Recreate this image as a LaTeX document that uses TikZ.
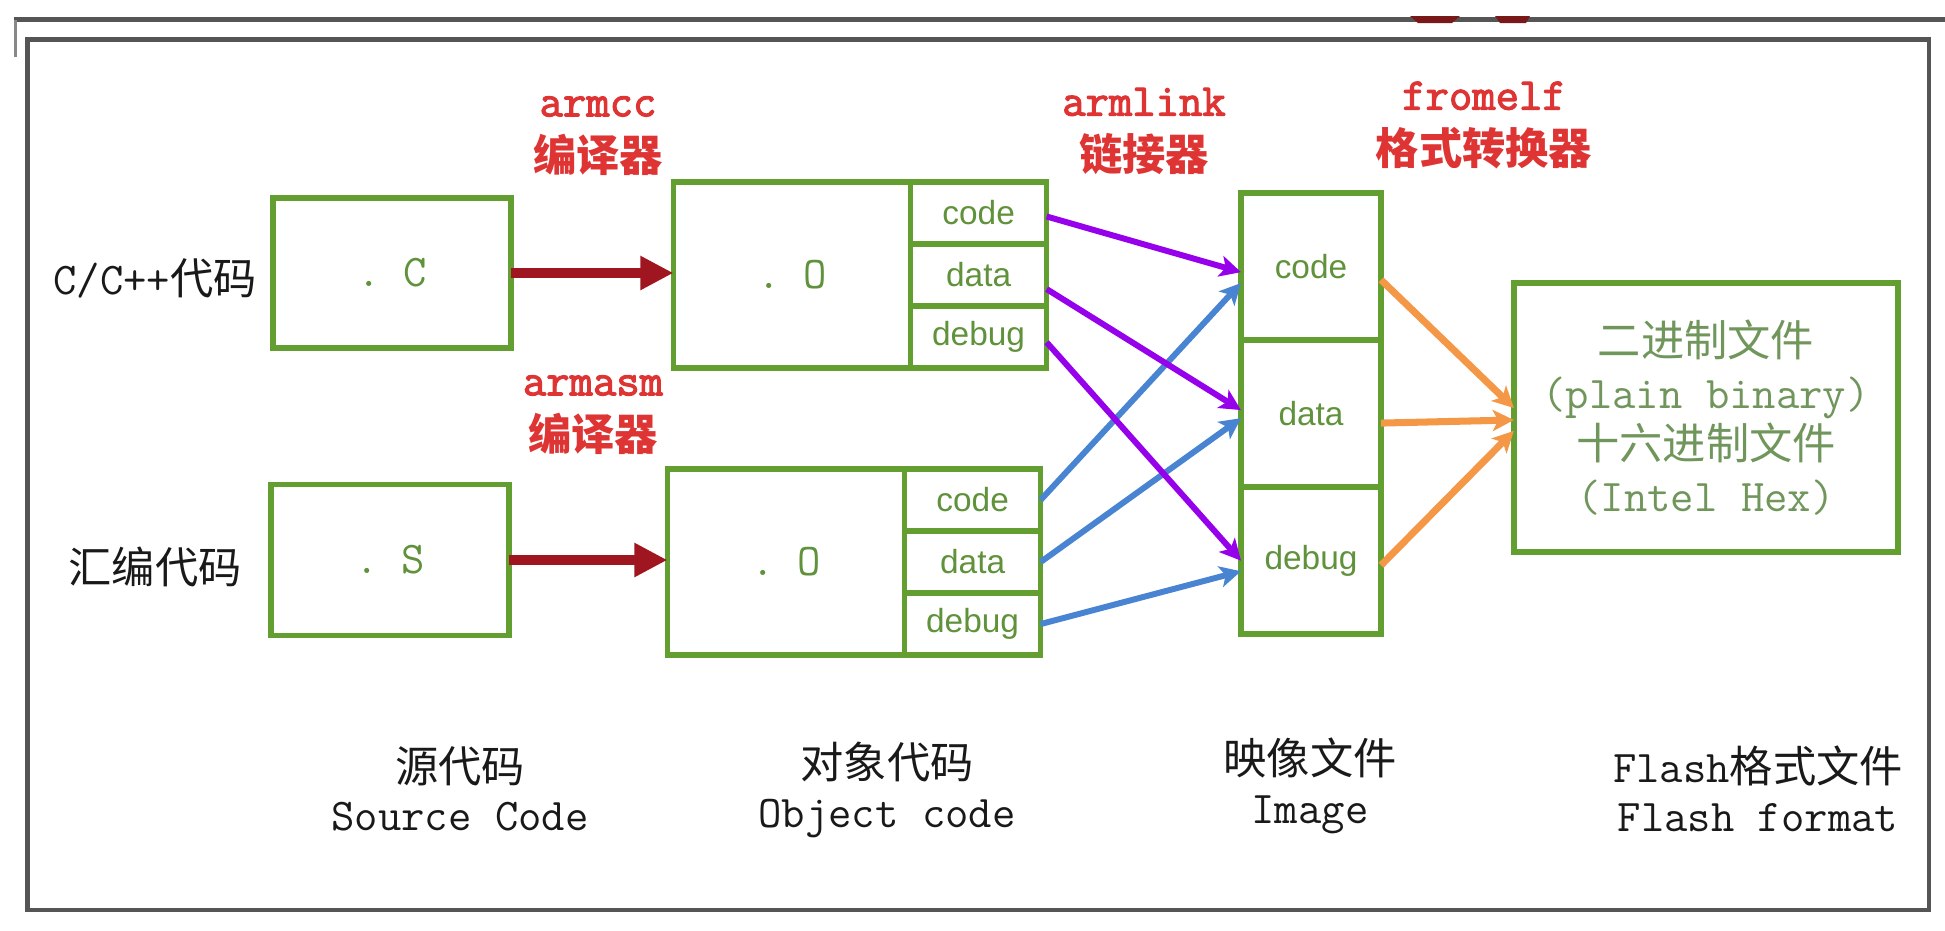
\documentclass[tikz,border=0pt]{standalone}
\usepackage{fontspec}
\setmainfont{Liberation Serif}
\setmonofont{Latin Modern Mono}[AutoFakeBold=2.5]
\newfontfamily\cjk{Noto Sans CJK SC}
\newfontfamily\arial{Liberation Sans}
\usetikzlibrary{positioning, arrows.meta, calc}

\definecolor{boxgreen}{RGB}{98,158,48}
\definecolor{textgreen}{RGB}{96,146,60}
\definecolor{flashtext}{RGB}{112,150,92}
\definecolor{labelred}{RGB}{222,52,52}
\definecolor{arrowred}{RGB}{160,22,32}
\definecolor{linkpurple}{RGB}{150,0,235}
\definecolor{linkblue}{RGB}{72,132,210}
\definecolor{convorange}{RGB}{244,152,72}
\definecolor{framegray}{RGB}{85,85,85}
\definecolor{blobred}{RGB}{120,24,24}

\newcommand{\zh}[1]{{\cjk\fontsize{12.3}{15}\selectfont #1}}

\begin{document}
\begin{tikzpicture}[x=0.01cm, y=-0.01cm,
    box/.style={draw=boxgreen, line width=1.6pt, outer sep=0pt, inner sep=0pt,
        text=textgreen, font=\ttfamily\fontsize{12.9}{15}\selectfont},
    part/.style={box, minimum width=1.36cm, minimum height=0.62cm, font=\arial\fontsize{9.5}{11}\selectfont},
    imgpart/.style={box, minimum width=1.40cm, minimum height=1.47cm, font=\arial\fontsize{9.5}{11}\selectfont},
    tool/.style={text=labelred, align=center, font=\ttfamily\bfseries\fontsize{12.9}{15.7}\selectfont},
    stage/.style={align=center, text=black!90, font=\ttfamily\fontsize{12.9}{13.8}\selectfont},
    compile/.style={-{Triangle[length=0.33cm, width=0.32cm]}, arrowred, line width=2.9pt},
    link/.style={-{Stealth[length=6pt, width=6pt, inset=1.5pt]}, line width=1.7pt},
    convert/.style={link, convorange, line width=2pt}]

    \useasboundingbox (0,0) rectangle (1945,930);

    % window frame
    \draw[framegray, line width=1.2pt] (14,19.5) -- (1945,19.5);
    \draw[framegray!70, line width=0.9pt] (15.5,19.5) -- (15.5,57);
    \fill[blobred] (1410,16) -- (1460,16) -- (1452,23) -- (1418,23) -- cycle;
    \fill[blobred] (1495,16) -- (1530,16) -- (1526,23) -- (1500,23) -- cycle;
    \draw[framegray, line width=1.3pt] (27.5,39.5) rectangle (1929,910);

    % source files
    \node[stage] (cLabel) at (155,278) {C/C++\zh{代码}};
    \node[stage] (asmLabel) at (155,567) {\zh{汇编代码}};
    \node[box, minimum width=2.38cm, minimum height=1.50cm] (srcC) at (392,273) {.\hspace{0.5em}C};
    \node[box, minimum width=2.38cm, minimum height=1.51cm] (srcS) at (390,560) {.\hspace{0.5em}S};

    % object files
    \node[box, minimum width=2.37cm, minimum height=1.86cm] (objA) at (792,275) {.\hspace{0.5em}O};
    \node[part, anchor=north west] (objAcode) at (objA.north east) {code};
    \node[part, below=0pt of objAcode] (objAdata) {data};
    \node[part, below=0pt of objAdata] (objAdebug) {debug};

    \node[box, minimum width=2.37cm, minimum height=1.86cm] (objB) at (786,562) {.\hspace{0.5em}O};
    \node[part, anchor=north west] (objBcode) at (objB.north east) {code};
    \node[part, below=0pt of objBcode] (objBdata) {data};
    \node[part, below=0pt of objBdata] (objBdebug) {debug};

    % image file
    \node[imgpart] (imgcode) at (1311,266.5) {code};
    \node[imgpart, below=0pt of imgcode] (imgdata) {data};
    \node[imgpart, below=0pt of imgdata] (imgdebug) {debug};

    % flash file
    \node[box, minimum width=3.84cm, minimum height=2.69cm, align=center, text=flashtext,
        font=\ttfamily\fontsize{12.9}{14.7}\selectfont] (flash) at (1706,417.5)
        {\zh{二进制文件}\\(plain binary)\\\zh{十六进制文件}\\(Intel Hex)};

    % tools
    \node[tool] (armcc) at (598,136) {armcc\\\zh{编译器}};
    \node[tool] (armasm) at (593,415) {armasm\\\zh{编译器}};
    \node[tool] (armlink) at (1144,131.5) {armlink\\\zh{链接器}};
    \node[tool] (fromelf) at (1484,125.5) {fromelf\\\zh{格式转换器}};

    % stage captions
    \node[stage] (srcCap) at (460,789) {\zh{源代码}\\Source Code};
    \node[stage] (objCap) at (887,790) {\zh{对象代码}\\Object code};
    \node[stage] (imgCap) at (1310,786) {\zh{映像文件}\\Image};
    \node[stage] (flashCap) at (1758,789) {Flash\zh{格式文件}\\Flash format};

    % compile
    \draw[compile] (srcC.east) -- (srcC.east -| objA.west);
    \draw[compile] (srcS.east) -- (srcS.east -| objB.west);

    % link
    \draw[link, linkblue] (objBcode.east) -- ([yshift=-4.7pt]imgcode.west);
    \draw[link, linkblue] (objBdata.east) -- ([yshift=-1.3pt]imgdata.west);
    \draw[link, linkblue] (objBdebug.east) -- ([yshift=-3pt]imgdebug.west);
    \draw[link, linkpurple] ([yshift=-1pt]objAcode.east) -- ([yshift=-1.6pt]imgcode.west);
    \draw[link, linkpurple] ([yshift=-4pt]objAdata.east) -- ([yshift=1pt]imgdata.west);
    \draw[link, linkpurple] ([yshift=-1.5pt]objAdebug.east) -- (imgdebug.west);

    % convert
    \draw[convert] ([yshift=-3.8pt]imgcode.east) -- ([yshift=2.7pt]flash.west);
    \draw[convert] ([yshift=-2.7pt]imgdata.east) -- ([yshift=-0.7pt]flash.west);
    \draw[convert] ([yshift=-1.3pt]imgdebug.east) -- ([yshift=-3.8pt]flash.west);
\end{tikzpicture}
\end{document}
